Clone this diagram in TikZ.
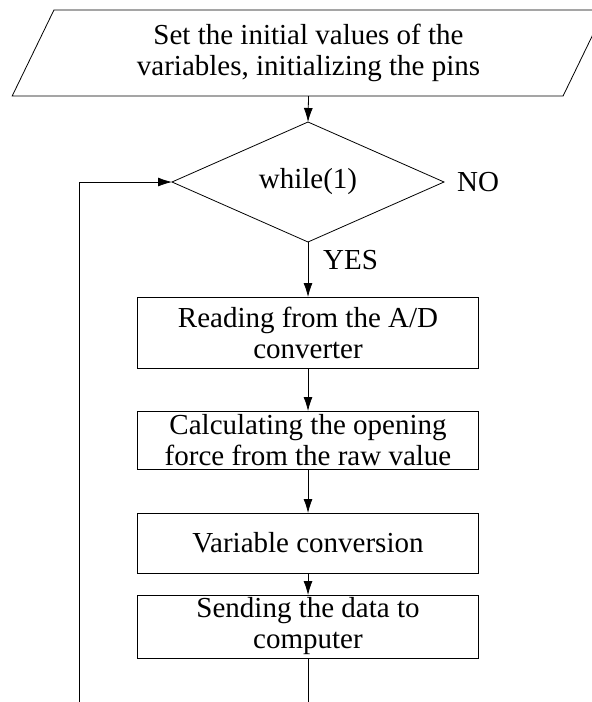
\documentclass[tikz,border=0pt]{standalone}
\usepackage{fontspec}
\setmainfont{Liberation Serif}
\usepackage{tikz}
\usetikzlibrary{shapes.geometric}
\usetikzlibrary{arrows.meta}

\begin{document}
\begin{tikzpicture}[-{Latex[length=14pt,width=9pt]},x=1pt,y=-1pt,
  font=\fontsize{29}{31}\selectfont,
  flow/.style = {line width=0.8pt},
  inout/.style = {shape=trapezium, draw, line width=0.8pt,
    trapezium left angle=64, trapezium right angle=116,
    trapezium stretches=true, minimum width=593pt, minimum height=86pt,
    align=center, inner sep=0pt, outer sep=0pt},
  cond/.style = {shape=diamond, draw, line width=0.8pt, aspect=2.27,
    minimum width=272pt, minimum height=120pt, inner sep=0pt, outer sep=0pt},
  proc/.style = {draw, line width=1pt, minimum width=341pt,
    align=center, inner sep=0pt, outer sep=0pt},
  lbl/.style = {anchor=west, inner sep=0pt}
]

\path [use as bounding box, clip] (0,0) rectangle (592,702);

\node [inout] (init) at (308.5,53) {Set the initial values of the\\variables, initializing the pins};
\node [cond] (loop) at (308,182) {while(1)};
\node [proc, minimum height=71pt] (read) at (308,332.5) {Reading from the A/D\\converter};
\node [proc, minimum height=58pt] (calc) at (308,440) {Calculating the opening\\force from the raw value};
\node [proc, minimum height=60pt] (conv) at (308,543) {Variable conversion};
\node [proc, minimum height=63pt] (send) at (308,626.5) {Sending the data to\\computer};
\node [lbl] (no) at (457,182) {NO};
\node [lbl] (yes) at (323,260) {YES};

\coordinate (down) at (308,702);
\coordinate (back) at (79,702);

\draw [flow] (init.south) -- (loop.north);
\draw [flow] (loop.south) -- (read.north);
\draw [flow] (read) -- (calc);
\draw [flow] (calc) -- (conv);
\draw [flow] (conv) -- (send);
\draw [flow,-] (send) -- (down);
\draw [flow] (back) |- (loop.west);

\end{tikzpicture}
\end{document}
